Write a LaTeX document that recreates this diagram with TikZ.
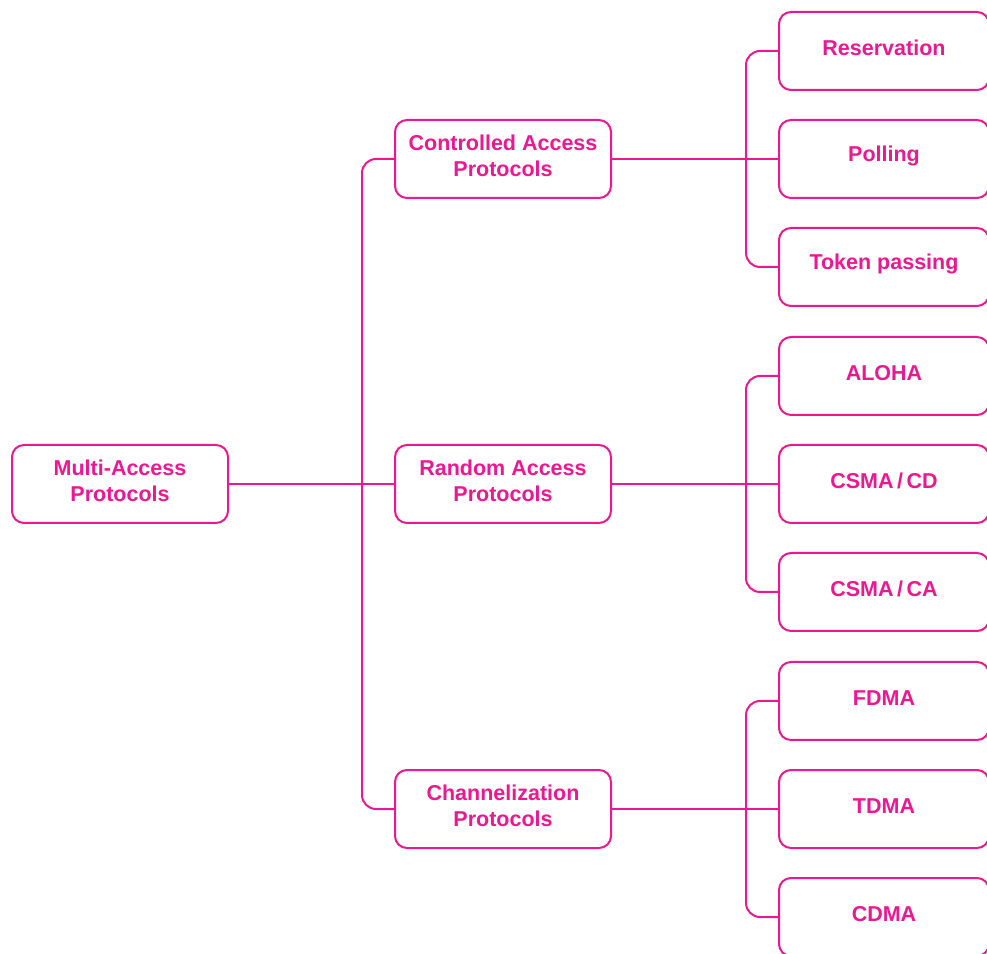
\documentclass[tikz,border=0pt]{standalone}
\usepackage{fontspec}
\setmainfont{Liberation Sans}
\definecolor{pk}{RGB}{236,24,146}
\tikzset{
  box/.style={draw=pk, line width=2pt, rounded corners=12pt, minimum width=216pt, minimum height=78pt, inner sep=0pt, fill=white},
  rbox/.style={box, minimum width=210pt},
  txt/.style={text=pk, font=\fontsize{21.5}{26}\selectfont\bfseries, align=center, inner sep=0pt},
  conn/.style={draw=pk, line width=2pt, rounded corners=14pt}
}
\begin{document}
\begin{tikzpicture}[x=1pt,y=1pt]
\useasboundingbox (0,0) rectangle (987,953);
\clip (0,0) rectangle (987,953);
% left
\node[box] (multi) at (120,469) {};
\node[txt] (multiT) at ([yshift=3pt]multi.center) {Multi-Access\\Protocols};
% middle
\node[box] (ctrl) at (503,794) {};
\node[txt] (ctrlT) at ([yshift=3pt]ctrl.center) {Controlled Access\\Protocols};
\node[box] (rand) at (503,469) {};
\node[txt] (randT) at ([yshift=3pt]rand.center) {Random Access\\Protocols};
\node[box] (chan) at (503,144) {};
\node[txt] (chanT) at ([yshift=3pt]chan.center) {Channelization\\Protocols};
% right
\node[rbox] (res) at (884,902) {};
\node[txt] (resT) at ([yshift=3pt]res.center) {Reservation};
\node[rbox] (pol) at (884,794) {};
\node[txt] (polT) at ([yshift=3pt]pol.center) {Polling};
\node[rbox] (tok) at (884,686) {};
\node[txt] (tokT) at ([yshift=3pt]tok.center) {Token passing};
\node[rbox] (alo) at (884,577) {};
\node[txt] (aloT) at ([yshift=3pt]alo.center) {ALOHA};
\node[rbox] (cd) at (884,469) {};
\node[txt] (cdT) at ([yshift=3pt]cd.center) {CSMA\,/\,CD};
\node[rbox] (ca) at (884,361) {};
\node[txt] (caT) at ([yshift=3pt]ca.center) {CSMA\,/\,CA};
\node[rbox] (fd) at (884,252) {};
\node[txt] (fdT) at ([yshift=3pt]fd.center) {FDMA};
\node[rbox] (td) at (884,144) {};
\node[txt] (tdT) at ([yshift=3pt]td.center) {TDMA};
\node[rbox] (cdm) at (884,36) {};
\node[txt] (cdmT) at ([yshift=3pt]cdm.center) {CDMA};
% bus coordinates
\coordinate (b1) at (362,469);
\coordinate (b2) at (746,794);
\coordinate (b3) at (746,469);
\coordinate (b4) at (746,144);
% connectors left
\draw[conn] (multi.east) -- (rand.west);
\draw[conn] (ctrl.west) -| (b1) |- (chan.west);
% connectors right
\draw[conn] (ctrl.east) -- (pol.west);
\draw[conn] (res.west) -| (b2) |- (tok.west);
\draw[conn] (rand.east) -- (cd.west);
\draw[conn] (alo.west) -| (b3) |- (ca.west);
\draw[conn] (chan.east) -- (td.west);
\draw[conn] (fd.west) -| (b4) |- (cdm.west);
\end{tikzpicture}
\end{document}
